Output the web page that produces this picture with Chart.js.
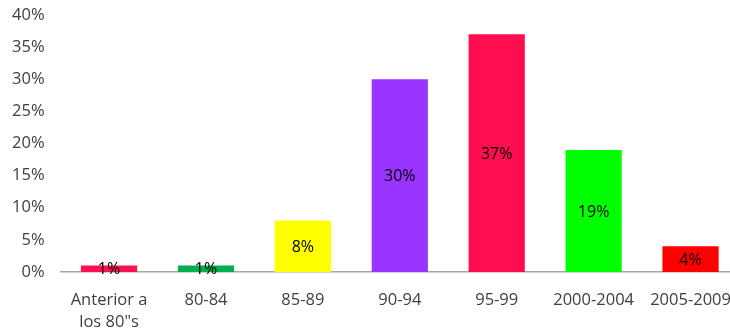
<!DOCTYPE html>
<html>
<head>
<meta charset="utf-8">
<script src="https://cdn.jsdelivr.net/npm/chart.js@4.4.1/dist/chart.umd.min.js"></script>
<style>
  html, body { margin: 0; padding: 0; background: #fff; overflow: hidden; }
  #wrap { position: relative; width: 740px; height: 335px; }
</style>
</head>
<body>
<div id="wrap"><canvas id="chart"></canvas></div>
<script>
const categories = [['Anterior a', 'los 80"s'], '80-84', '85-89', '90-94', '95-99', '2000-2004', '2005-2009'];
const shares = [1, 1, 8, 30, 37, 19, 4];
const barColors = ['#FF1050', '#00B050', '#FFFF00', '#9933FF', '#FF0D50', '#00FF00', '#FF0000'];
const yTicks = [0, 5, 10, 15, 20, 25, 30, 35, 40];

const FONT = "'Open Sans', 'Liberation Sans', sans-serif";

// labels drawn in the middle of each bar
const barLabels = {
  id: 'barLabels',
  afterDatasetsDraw(chart) {
    const { ctx } = chart;
    const meta = chart.getDatasetMeta(0);
    ctx.save();
    ctx.font = `16px ${FONT}`;
    ctx.fillStyle = '#000';
    ctx.textAlign = 'center';
    ctx.textBaseline = 'middle';
    meta.data.forEach((bar, i) => {
      const y = (bar.y + bar.base) / 2;
      ctx.fillText(shares[i] + '%', bar.x, y + 1);
    });
    ctx.restore();
  },
};

new Chart(document.getElementById('chart'), {
  type: 'bar',
  data: {
    labels: categories,
    datasets: [{
      data: shares,
      backgroundColor: barColors,
      borderWidth: 0,
      categoryPercentage: 0.58,
      barPercentage: 1,
    }],
  },
  options: {
    responsive: true,
    maintainAspectRatio: false,
    animation: false,
    layout: { autoPadding: false, padding: { top: 15, right: 1, left: 0, bottom: 0 } },
    plugins: {
      legend: { display: false },
      tooltip: { enabled: false },
    },
    scales: {
      x: {
        grid: { display: false, drawTicks: false },
        border: { color: '#A6A6A6', width: 1.5 },
        ticks: {
          color: '#404040',
          font: { size: 16.5, family: FONT, lineHeight: 1.33 },
          padding: 17,
          maxRotation: 0,
          autoSkip: false,
        },
        afterFit: (s) => { s.height = 63; s.paddingLeft = 0; s.paddingRight = 0; },
      },
      y: {
        min: 0,
        max: 40,
        grid: { display: false, drawTicks: false },
        border: { display: false },
        afterBuildTicks: (s) => { s.ticks = yTicks.map(v => ({ value: v })); },
        ticks: {
          color: '#404040',
          font: { size: 16.5, family: FONT },
          padding: 16,
          callback: (v) => v + '%',
        },
        afterFit: (s) => { s.width = 60.6; s.paddingTop = 0; s.paddingBottom = 0; },
      },
    },
  },
  plugins: [barLabels],
});
</script>
</body>
</html>
